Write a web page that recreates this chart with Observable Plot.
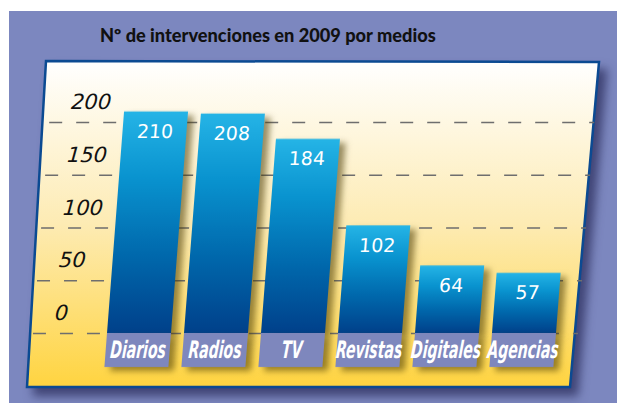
<!DOCTYPE html>
<html><head><meta charset="utf-8">
<script src="https://cdn.jsdelivr.net/npm/d3@7"></script>
<script src="https://cdn.jsdelivr.net/npm/@observablehq/plot@0.6"></script>
<style>
html,body{margin:0;padding:0;background:#fff;}
#wrap{position:relative;width:617px;height:403px;overflow:hidden;}
#bg{position:absolute;left:9px;top:11px;right:0;bottom:0;background:#7c87bf;}
#title{position:absolute;left:100px;top:24px;line-height:22px;white-space:nowrap;font:900 18.2px Lato, sans-serif;color:#111;}
#panel{position:absolute;left:0;top:0;}
#chart{position:absolute;left:0;top:0;}
#chart svg{transform:skewX(-4.4deg);transform-origin:0 333px;overflow:visible;background:transparent;}
</style></head>
<body><div id="wrap"><div id="bg"></div><div id="title">Nº de intervenciones en 2009 por medios</div>
<svg id="panel" width="617" height="403">
<defs>
<linearGradient id="panelGrad" x1="0" y1="0" x2="0" y2="1">
<stop offset="0" stop-color="#ffffff"/><stop offset="0.5" stop-color="#fdebb3"/><stop offset="1" stop-color="#ffd440"/>
</linearGradient>
<linearGradient id="barGrad" x1="0" y1="0" x2="0" y2="1">
<stop offset="0" stop-color="#25b4e6"/><stop offset="0.3" stop-color="#0993cf"/><stop offset="0.65" stop-color="#0068ac"/><stop offset="1" stop-color="#00408a"/>
</linearGradient>
</defs>
<polygon points="46,61 599,62 570,387 27,387" fill="url(#panelGrad)" stroke="#0b4a92" stroke-width="2.5" style="filter:drop-shadow(7px 8px 5px rgba(25,25,70,0.6))"/>
</svg>
<div id="chart"></div></div>
<script>
const categories = ["Diarios","Radios","TV","Revistas","Digitales","Agencias"];
const values = [210,208,184,102,64,57];
const yTicks = [0,50,100,150,200];
const data = categories.map((c,i)=>({medio:c, n:values[i]}));

const chart = Plot.plot({
  width: 617, height: 403,
  marginLeft: 33, marginRight: 39, marginTop: 0, marginBottom: 0,
  style: {background: "transparent", overflow: "visible"},
  x: {domain: categories, range: [99.5, 563.5], paddingInner: 0.17, paddingOuter: 0.085, axis: null},
  y: {domain: [0, 200], range: [333, 122], axis: null},
  marks: [
    Plot.ruleY(yTicks, {stroke: "#6e6e6e", strokeWidth: 1.6, strokeDasharray: "13,14", strokeOpacity: 1}),
    Plot.axisY({ticks: yTicks, anchor: "left", tickSize: 0, tickPadding: 0, textAnchor: "start", dx: 20, dy: -20,
      fontSize: 21, fontFamily: "DejaVu Sans", fontStyle: "italic", fill: "#111", label: null}),
    Plot.barY(data, {x: "medio", y: "n", fill: "url(#barGrad)"}),
    Plot.barY(data, {x: "medio", y1: 0, y2: 0, insetBottom: -34, fill: "#7e87bd"}),
    Plot.text(data, {x: "medio", y: "n", text: d => String(d.n), dy: 20, fill: "white", fontSize: 19, fontFamily: "DejaVu Sans"}),
    Plot.text(data, {x: "medio", y: 0, text: "medio", dy: 17, fill: "white", fontSize: 24, fontWeight: "bold", fontStyle: "italic", fontFamily: "DejaVu Sans Condensed, DejaVu Sans"})
  ]
});
document.getElementById("chart").appendChild(chart);
chart.querySelectorAll('g[aria-label="bar"]').forEach(g => {
  g.style.filter = "drop-shadow(6px 4px 3px rgba(70,55,0,0.55))";
});
const textGroups = chart.querySelectorAll('g[aria-label="text"]');
const catGroup = textGroups[textGroups.length - 1];
const squeeze = 0.65;
if (catGroup) catGroup.querySelectorAll('text').forEach(t => {
  let tr = t.getAttribute("transform");
  if (!tr) {
    const x = t.getAttribute("x") || 0, y = t.getAttribute("y") || 0;
    t.removeAttribute("x"); t.removeAttribute("y");
    tr = `translate(${x},${y})`;
  }
  t.setAttribute("transform", `${tr} scale(${squeeze},1)`);
});
</script>
</body></html>
